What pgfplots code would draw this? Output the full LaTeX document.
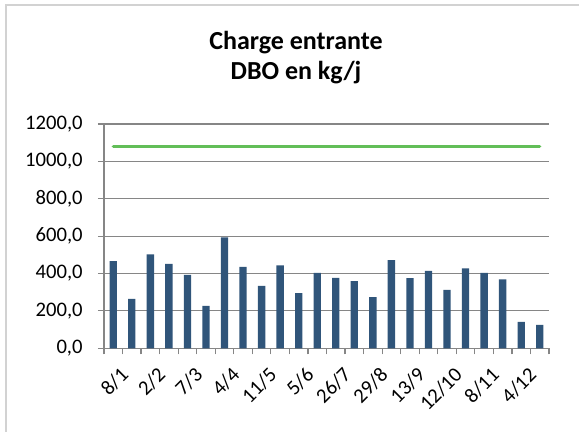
\documentclass[border=0pt]{standalone}
\usepackage{pgfplots}
\pgfplotsset{compat=1.18}
\usepackage{fontspec}
\setmainfont{Carlito}
\definecolor{barblue}{RGB}{48,85,122}
\definecolor{lgreen}{RGB}{98,190,88}
\definecolor{gridgray}{RGB}{134,134,134}
\definecolor{bordergray}{RGB}{210,210,210}
\pgfplotstableread{
x y
0 466
1 264
2 502
3 452
4 393
5 227
6 593
7 436
8 334
9 443
10 295
11 404
12 377
13 359
14 273
15 471
16 375
17 414
18 313
19 427
20 404
21 368
22 141
23 125
}\dbo
\pgfplotstableread{
x y
0 1080
23 1080
}\limite
\newcommand{\tickfont}{\fontsize{15.5}{18}\selectfont}
\begin{document}
\begin{tikzpicture}[x=0.75pt,y=0.75pt]
\path[use as bounding box] (0,0) rectangle (579,432);
\draw[bordergray, line width=1.5pt] (6,-10) rectangle (590,427);
\node[anchor=base, font=\fontsize{19.5}{23}\selectfont\bfseries] at (296,382) {Charge entrante};
\node[anchor=base, font=\fontsize{19.5}{23}\selectfont\bfseries] at (296,352.7) {DBO en kg/j};
\begin{axis}[
  at={(78pt,62.8pt)}, anchor=south west,
  width=333.75pt, height=168.2pt, scale only axis,
  xmin=-0.5, xmax=23.5, ymin=0, ymax=1200,
  axis x line=bottom, axis y line=left,
  axis line style={draw=gridgray, line width=0.9pt, -},
  xtick={0,2,...,22},
  xticklabels={8/1,2/2,7/3,4/4,11/5,5/6,26/7,29/8,13/9,12/10,8/11,4/12},
  minor xtick={-0.5,0.5,...,23.5},
  ytick={0,200,...,1200},
  ymajorgrids,
  grid style={draw=gridgray, line width=0.9pt},
  tick align=outside,
  major tick length=4.5pt,
  minor tick length=4.5pt,
  x tick style={draw=none},
  minor x tick style={draw=gridgray, line width=0.9pt},
  y tick style={draw=gridgray, line width=0.9pt},
  /pgf/number format/assume math mode=true,
  y tick label style={font=\tickfont, xshift=-8pt, /pgf/number format/fixed, /pgf/number format/fixed zerofill, /pgf/number format/precision=1, /pgf/number format/use comma, /pgf/number format/1000 sep={}},
  x tick label style={font=\tickfont, rotate=45, anchor=north east, xshift=0.5pt, yshift=-6pt},
]
\addplot[ybar, bar width=5.5pt, bar shift=0pt, fill=barblue, draw=none] table[x=x,y=y] {\dbo};
\addplot[lgreen, line width=2.3pt, line cap=round, no marks] table[x=x,y=y] {\limite};
\end{axis}
\end{tikzpicture}
\end{document}
